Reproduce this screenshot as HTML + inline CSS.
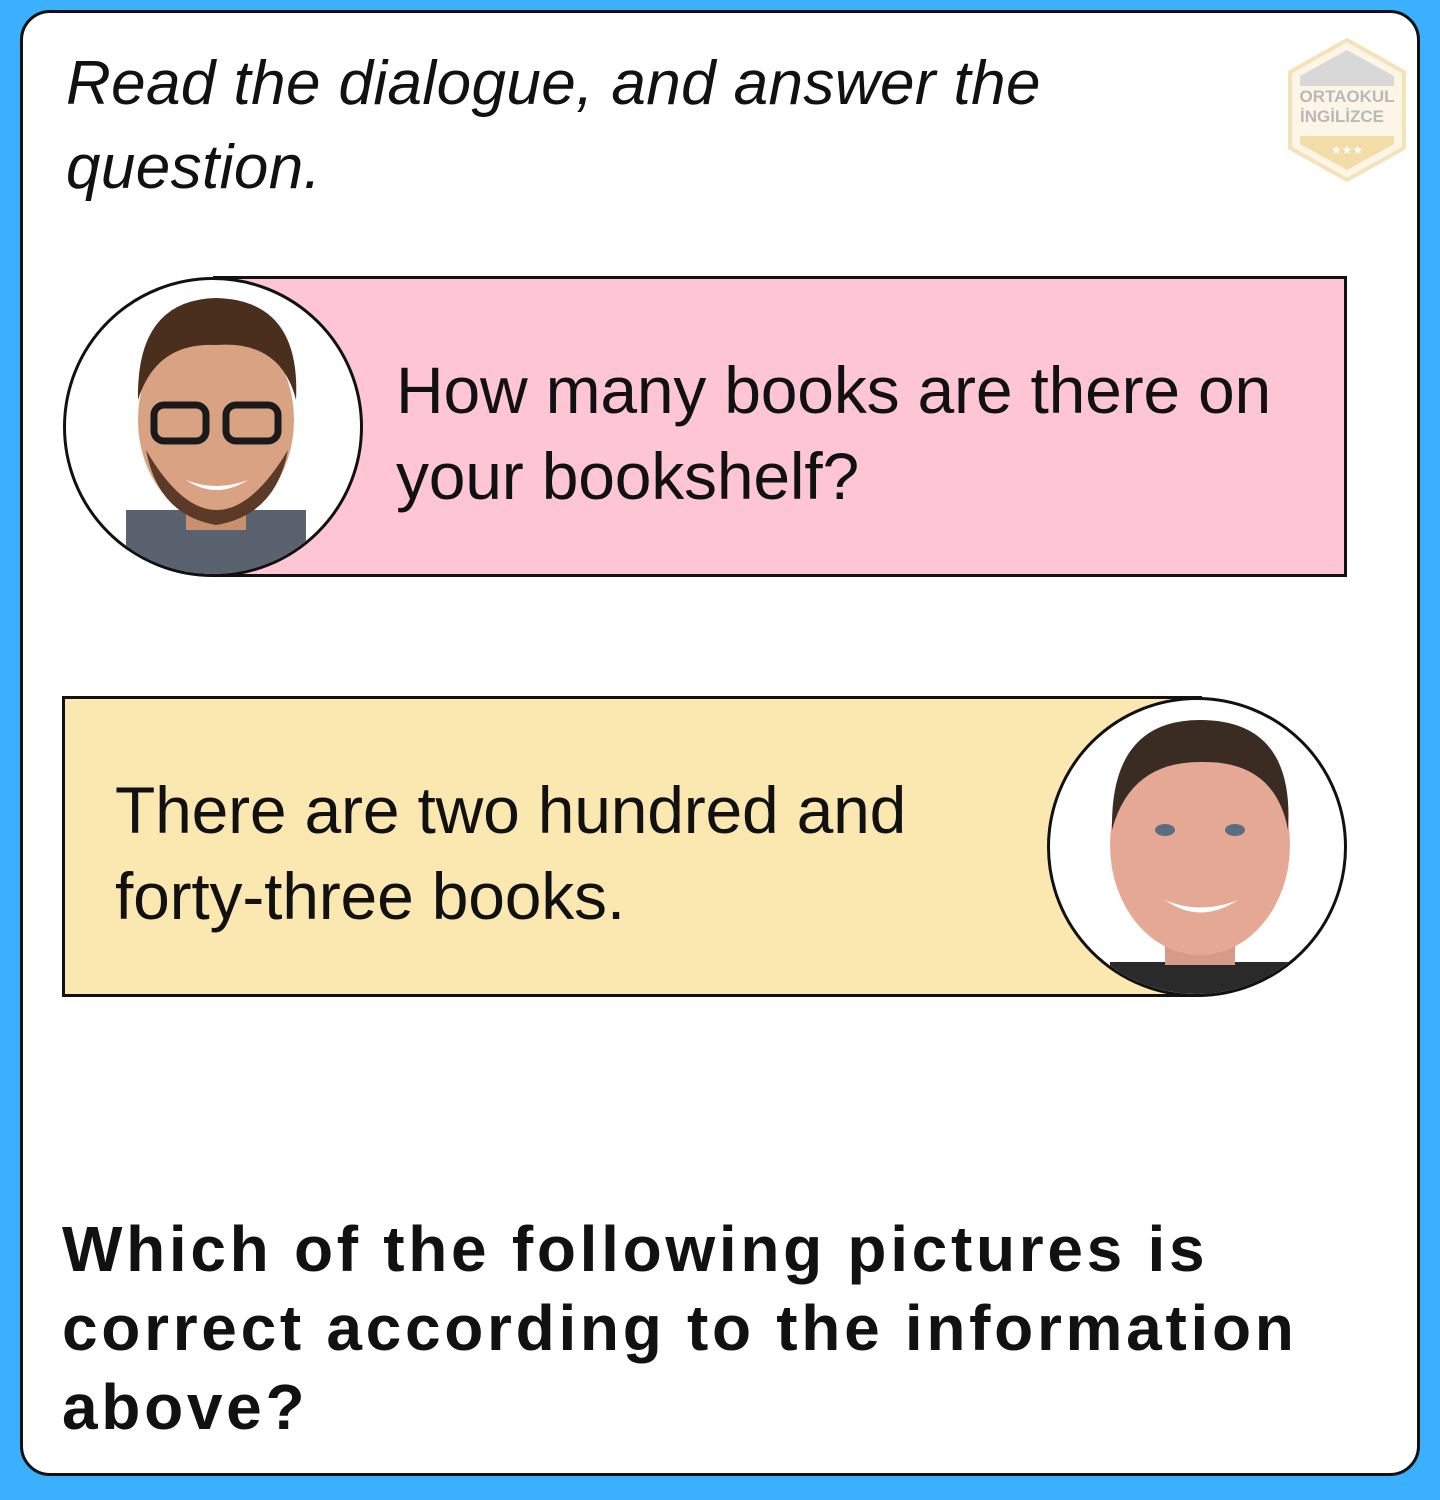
<!DOCTYPE html>
<html>
<head>
<meta charset="utf-8">
<style>
  html,body{margin:0;padding:0;}
  body{width:1440px;height:1500px;background:#3bb0fd;position:relative;overflow:hidden;font-family:"Liberation Sans",sans-serif;}
  .card{position:absolute;left:20px;top:10px;width:1394px;height:1460px;background:#fff;border:3px solid #111;border-radius:30px;}
  .title{position:absolute;left:66px;top:42px;font-style:italic;font-size:62px;line-height:84px;letter-spacing:0.4px;color:#111;margin:0;font-weight:normal;}
  .bubble{position:absolute;border:3px solid #111;box-sizing:border-box;}
  .pink{left:213px;top:276px;width:1134px;height:301px;background:#fec5d5;}
  .yellow{left:62px;top:696px;width:1140px;height:301px;background:#fbe8b1;}
  .btext{position:absolute;font-size:66px;line-height:86px;letter-spacing:-0.2px;color:#111;}
  .avatar{position:absolute;width:294px;height:294px;border-radius:50%;border:3px solid #111;background:#fff;overflow:hidden;}
  .question{position:absolute;left:62px;top:1210px;font-weight:bold;font-size:64px;line-height:79px;letter-spacing:3.7px;color:#111;margin:0;}
</style>
</head>
<body>
<div class="card">
</div>
<h1 class="title">Read the dialogue, and answer the<br>question.</h1>

<svg style="position:absolute;left:1284px;top:36px" width="126" height="148" viewBox="0 0 126 148">
  <polygon points="63,4 120,36 120,112 63,144 6,112 6,36" fill="#fdf6e6" stroke="#f4e2b8" stroke-width="4"/>
  <polygon points="63,14 110,40 110,50 16,50 16,40" fill="#d8d8d8"/>
  <polygon points="16,100 110,100 110,108 63,134 16,108" fill="#f2dca8"/>
  <text x="63" y="66" font-size="17" font-weight="bold" text-anchor="middle" fill="#b9b9b9" font-family="Liberation Sans">ORTAOKUL</text>
  <text x="58" y="86" font-size="17" font-weight="bold" text-anchor="middle" fill="#b9b9b9" font-family="Liberation Sans">İNGİLİZCE</text>
  <text x="63" y="118" font-size="12" text-anchor="middle" fill="#fff" font-family="DejaVu Sans">★★★</text>
</svg>

<div class="bubble pink">
  <div class="btext" style="left:180px;top:68px">How many books are there on<br>your bookshelf?</div>
</div>
<div class="avatar" style="left:63px;top:277px">
  <svg width="294" height="294" viewBox="0 0 294 294">
    <rect x="60" y="230" width="180" height="70" fill="#5a6270"/>
    <rect x="120" y="200" width="60" height="50" fill="#c9906f"/>
    <ellipse cx="150" cy="140" rx="78" ry="100" fill="#d9a282"/>
    <path d="M72,120 Q70,20 150,18 Q235,20 230,120 Q215,60 150,65 Q90,62 72,120Z" fill="#4a2e1e"/>
    <path d="M80,170 Q150,290 222,170 Q210,235 150,245 Q92,235 80,170Z" fill="#5b3a28"/>
    <rect x="88" y="125" width="52" height="36" rx="10" fill="none" stroke="#1a1a1a" stroke-width="7"/>
    <rect x="160" y="125" width="52" height="36" rx="10" fill="none" stroke="#1a1a1a" stroke-width="7"/>
    <path d="M120,200 Q150,220 182,200 Q150,212 120,200Z" fill="#fff"/>
  </svg>
</div>

<div class="bubble yellow">
  <div class="btext" style="left:50px;top:68px">There are two hundred and<br>forty-three books.</div>
</div>
<div class="avatar" style="left:1047px;top:697px">
  <svg width="294" height="294" viewBox="0 0 294 294">
    <rect x="60" y="262" width="180" height="40" fill="#2a2a2a"/>
    <rect x="115" y="215" width="70" height="50" fill="#d79a86"/>
    <ellipse cx="150" cy="145" rx="90" ry="110" fill="#e4a895"/>
    <path d="M62,130 Q60,20 150,20 Q245,20 238,130 Q225,60 150,62 Q80,62 62,130Z" fill="#3a2c22"/>
    <ellipse cx="115" cy="130" rx="10" ry="6" fill="#5a6d80"/>
    <ellipse cx="185" cy="130" rx="10" ry="6" fill="#5a6d80"/>
    <path d="M115,200 Q150,225 188,200 Q150,215 115,200Z" fill="#fff"/>
  </svg>
</div>

<p class="question">Which of the following pictures is<br>correct according to the information<br>above?</p>
</body>
</html>
